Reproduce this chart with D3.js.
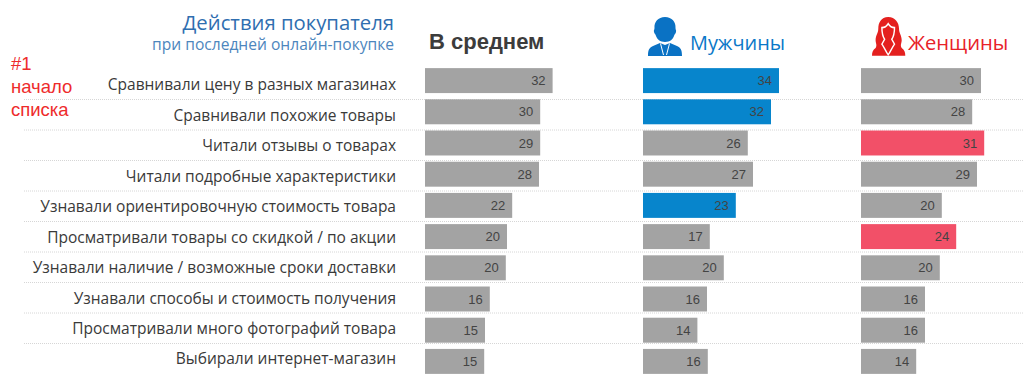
<!DOCTYPE html>
<html>
<head>
<meta charset="utf-8">
<script src="https://cdn.jsdelivr.net/npm/d3@7"></script>
<style>
html, body { margin: 0; padding: 0; background: #fff; overflow: hidden; }
</style>
</head>
<body>
<div id="chart"></div>
<script>
var actions = [
    "Сравнивали цену в разных магазинах",
    "Сравнивали похожие товары",
    "Читали отзывы о товарах",
    "Читали подробные характеристики",
    "Узнавали ориентировочную стоимость товара",
    "Просматривали товары со скидкой / по акции",
    "Узнавали наличие / возможные сроки доставки",
    "Узнавали способы и стоимость получения",
    "Просматривали много фотографий товара",
    "Выбирали интернет-магазин"
];
// printed numbers
var avgLabels = [32, 30, 29, 28, 22, 20, 20, 16, 15, 15];
var menLabels = [34, 32, 26, 27, 23, 17, 20, 16, 14, 16];
var womenLabels = [30, 28, 31, 29, 20, 24, 20, 16, 16, 14];
// bar lengths as they look in the picture
var avgBars = [31.9, 28.8, 28.8, 28.5, 21.8, 20.5, 20.2, 16.2, 15, 14.8];
var menBars = [34, 32, 26.2, 27.5, 23.2, 16.7, 20.2, 16, 13.6, 16.2];
var womenBars = [30, 27.8, 30.8, 29, 20.2, 23.8, 19.7, 16, 16, 13.8];
var menMarked = [0, 1, 4];
var womenMarked = [2, 5];

var width = 1023, height = 387;

var svg = d3.select("#chart").append("svg")
    .attr("width", width)
    .attr("height", height)
    .style("display", "block");

var rowScale = d3.scaleBand()
    .domain(d3.range(actions.length))
    .range([65, 377])
    .paddingInner(0.2)
    .paddingOuter(0.1);

// the row labels sit a little tighter than the bars
var labelScale = d3.scaleLinear().domain([0, 9]).range([85, 359]);
var lineScale = d3.scaleLinear().domain([0, 8]).range([99.5, 343.5]);
var barScale = d3.scaleLinear().domain([0, 34]).range([0, 136]);

// separators
svg.append("g").selectAll("line")
    .data(d3.range(9))
    .enter().append("line")
    .attr("x1", 24)
    .attr("x2", width)
    .attr("y1", function (d) { return lineScale(d); })
    .attr("y2", function (d) { return lineScale(d); })
    .attr("stroke", "#d6d6d6")
    .attr("stroke-dasharray", "1 1");

// row labels
svg.append("g").selectAll("text")
    .data(actions)
    .enter().append("text")
    .attr("x", 396)
    .attr("y", function (d, i) { return labelScale(i); })
    .attr("dy", ".35em")
    .attr("text-anchor", "end")
    .attr("font-family", "Open Sans")
    .attr("font-size", 15.5)
    .attr("fill", "#3a3a3a")
    .text(function (d) { return d; });

function drawColumn(x0, bars, labels, marked, markColor) {
    var g = svg.append("g").attr("transform", "translate(" + x0 + ",0)");
    g.selectAll("rect")
        .data(bars)
        .enter().append("rect")
        .attr("x", 0)
        .attr("y", function (d, i) { return rowScale(i); })
        .attr("width", function (d) { return barScale(d); })
        .attr("height", rowScale.bandwidth())
        .attr("fill", function (d, i) { return marked.indexOf(i) >= 0 ? markColor : "#a3a3a3"; });
    g.selectAll("text")
        .data(bars)
        .enter().append("text")
        .attr("x", function (d) { return barScale(d) - 7; })
        .attr("y", function (d, i) { return rowScale(i) + rowScale.bandwidth() / 2; })
        .attr("dy", ".35em")
        .attr("text-anchor", "end")
        .attr("font-family", "Liberation Sans")
        .attr("font-size", 13)
        .attr("fill", "#444")
        .text(function (d, i) { return labels[i]; });
}

drawColumn(425, avgBars, avgLabels, [], "#a3a3a3");
drawColumn(643, menBars, menLabels, menMarked, "#0785cc");
drawColumn(861, womenBars, womenLabels, womenMarked, "#f25068");

// headers
function headText(x, y, txt, size, color, anchor, family, weight) {
    svg.append("text")
        .attr("x", x).attr("y", y)
        .attr("text-anchor", anchor)
        .attr("font-family", family)
        .attr("font-size", size)
        .attr("font-weight", weight || 400)
        .attr("fill", color)
        .text(txt);
}
headText(394, 30, "Действия покупателя", 20.3, "#2f6eb0", "end", "Open Sans");
headText(394, 50, "при последней онлайн-покупке", 15.6, "#4d86bd", "end", "Open Sans");
headText(429, 49, "В среднем", 22, "#3c3c3c", "start", "Liberation Sans", 700);
headText(690, 50, "Мужчины", 19.9, "#0a78c8", "start", "Open Sans");
headText(908, 50, "Женщины", 20.2, "#e8222a", "start", "Open Sans");

// note on the left
headText(11, 70, "#1", 18.5, "#ee2b2b", "start", "Liberation Sans");
headText(11, 93, "начало", 18.5, "#ee2b2b", "start", "Liberation Sans");
headText(11, 116, "списка", 18.5, "#ee2b2b", "start", "Liberation Sans");

// icons
var man = svg.append("g").attr("transform", "translate(648,17)").attr("fill", "#0a72c4");
man.append("path").attr("d", "M17 0C10 0 6 5 6.5 11C6.5 13 5.5 13 6 15C6.5 17 7.5 17 8 19C9 22 12 25 17 25C22 25 25 22 26 19C26.5 17 27.5 17 28 15C28.5 13 27.5 13 27.5 11C28 5 24 0 17 0Z");
man.append("path").attr("d", "M0 39C0 33 1 31 5 29L12 26L17 28L22 26L29 29C33 31 34 33 34 39Z");
man.append("path").attr("d", "M12.5 26.5L15.5 38M21.5 26.5L18.5 38").attr("stroke", "#fff").attr("fill", "none");

var woman = svg.append("g").attr("transform", "translate(872,16) scale(0.9,0.97)").attr("fill", "#e4201f");
woman.append("path").attr("d", "M18 1C10 1 7 7 7 13C7 18 4 20 4 25C4 28 6 30 4 33C1 35 0 37 0 41L37 41C37 37 36 35 33 33C31 30 33 28 33 25C33 20 30 18 30 13C30 7 26 1 18 1Z");
woman.append("path").attr("fill", "none").attr("stroke", "#fff").attr("stroke-width", 1.6)
    .attr("d", "M18 8C16 11 13 12 11 12C11 17 12 21 14 24L11 29C14 33 16 38 18 40C20 38 22 33 25 29L22 24C24 21 25 17 25 12C23 12 20 11 18 8Z");
</script>
</body>
</html>
